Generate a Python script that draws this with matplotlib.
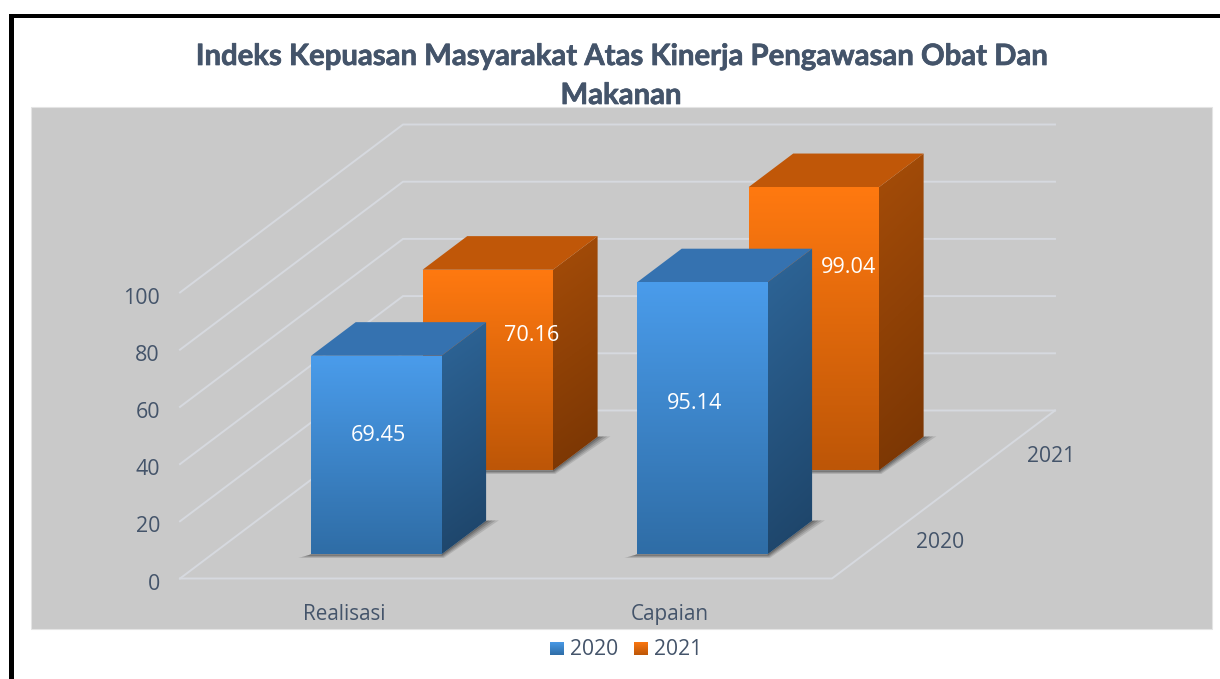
import numpy as np
import matplotlib
matplotlib.use("Agg")
import matplotlib.pyplot as plt
import matplotlib.patheffects as pe
from matplotlib.colors import LinearSegmentedColormap
from matplotlib.patches import Polygon, Rectangle

# ---- data ----
title_lines = ["Indeks Kepuasan Masyarakat Atas Kinerja Pengawasan Obat Dan", "Makanan"]
categories = ["Realisasi", "Capaian"]
series_names = ["2020", "2021"]
values_2020 = [69.45, 95.14]
values_2021 = [70.16, 99.04]
value_ticks = [0, 20, 40, 60, 80, 100]

# ---- styling ----
INK = "#44546A"
GRID = "#D6D9DF"
PANEL = "#C9C9C9"
FONT = "Open Sans"
STYLE = {
    "2020": dict(front=("#4A9CEB", "#2F6DA6"), side=("#2E6699", "#1D4367"), top="#3572B0"),
    "2021": dict(front=("#FF7910", "#BD5607"), side=("#A64D08", "#783504"), top="#C05708"),
}
# label offsets from the front-face centre, px
LABEL_OFFSET = {("2020", 0): (2, -20), ("2020", 1): (-8, -15), ("2021", 0): (44, -35), ("2021", 1): (35, -61)}

# ---- oblique projection: category position, depth position, value -> figure pixels ----
X0, Y0 = 180.0, 578.5
CAT_W = 326.0
DEPTH_DX, DEPTH_DY = 223.0, -168.0
PX_PER_UNIT = 2.86
BAR_W = 0.40      # in category widths
BAR_D = 0.20      # in floor depth
N_SER = len(series_names)


def proj(cat, depth, val):
    return (X0 + cat * CAT_W + depth * DEPTH_DX, Y0 + depth * DEPTH_DY - val * PX_PER_UNIT)


fig = plt.figure(figsize=(12.2, 6.79), dpi=100, facecolor="white")
ax = fig.add_axes([0, 0, 1, 1])
ax.set_xlim(0, 1220)
ax.set_ylim(679, 0)
ax.axis("off")

# frame + panel
ax.add_patch(Rectangle((9, 14), 1211, 3.5, fc="black", ec="none", zorder=1))
ax.add_patch(Rectangle((9, 14), 4.5, 665, fc="black", ec="none", zorder=1))
ax.add_patch(Rectangle((31, 106.5), 1180.5, 522.5, fc=PANEL, ec="#E4E4E4", lw=0.8, zorder=1))

# grid: side wall, back wall, floor
for v in value_ticks:
    pts = [proj(0, 0, v), proj(0, 1, v), proj(2, 1, v)]
    ax.plot(*zip(*pts), color=GRID, lw=1.4, zorder=2, solid_joinstyle="miter")
floor = [proj(0, 0, 0), proj(2, 0, 0), proj(2, 1, 0)]
ax.plot(*zip(*floor), color=GRID, lw=1.4, zorder=2)


def grad_poly(pts, c0, c1, z, diag=0.0):
    """Fill a polygon with a vertical (optionally tilted) gradient."""
    cm = LinearSegmentedColormap.from_list("g", [c0, c1])
    xs, ys = zip(*pts)
    ext = (min(xs), max(xs), max(ys), min(ys))
    yy, xx = np.mgrid[0:1:120j, 0:1:60j]
    im = ax.imshow(yy * (1 - diag) + xx * diag, cmap=cm, vmin=0, vmax=1, extent=ext,
                   aspect="auto", zorder=z, interpolation="bilinear")
    im.set_clip_path(Polygon(pts, transform=ax.transData))


def draw_bar(name, i, val, z):
    st = STYLE[name]
    s = series_names.index(name)
    c0 = i + (1 - BAR_W) / 2 + 0.004
    c1 = c0 + BAR_W
    d0 = (s + 0.5) / N_SER - 0.1065
    d1 = d0 + BAR_D
    # soft shadow on the floor
    bl = proj(c0, d0, 0)
    br = proj(c1, d0, 0)
    tr = proj(c1, d1, 0)
    for k, a in zip((8, 6, 4, 2), (0.16, 0.20, 0.26, 0.34)):
        shadow = [(bl[0] - k * 1.6, bl[1] + k * .45), (br[0] + k * .3, br[1] + k * .45),
                  (tr[0] + k * 1.6, tr[1] - .5)]
        ax.add_patch(Polygon(shadow + [tr, br, bl], fc="#3A3A3A", ec="none", alpha=a, zorder=z))
    # faces
    front = [bl, br, proj(c1, d0, val), proj(c0, d0, val)]
    side = [br, tr, proj(c1, d1, val), proj(c1, d0, val)]
    top = [proj(c0, d0, val), proj(c1, d0, val), proj(c1, d1, val), proj(c0, d1, val)]
    grad_poly(side, *st["side"], z + 0.1, diag=0.12)
    ax.add_patch(Polygon(top, fc=st["top"], ec="none", zorder=z + 0.2))
    grad_poly(front, *st["front"], z + 0.3)
    return (c0 + c1) / 2, d0


labels = []
z = 3.0
for name, vals in (("2021", values_2021), ("2020", values_2020)):
    for i, v in enumerate(vals):
        cm, d0 = draw_bar(name, i, v, z)
        z += 1
        px, py = proj(cm, d0, v / 2)
        ox, oy = LABEL_OFFSET[(name, i)]
        labels.append((px + ox, py + oy, f"{v:.2f}"))

for x, y, s in labels:
    ax.text(x, y, s, color="white", fontsize=15.6, family=FONT, ha="center", va="center", zorder=50)

# axis labels
for v in value_ticks:
    x, y = proj(0, 0, v)
    ax.text(x - 20, y + 5.5, str(v), color=INK, fontsize=15.4, family=FONT, ha="right", va="center", zorder=50)
for i, c in enumerate(categories):
    x, y = proj(i + 0.5, 0, 0)
    ax.text(x + 1, y + 36, c, color=INK, fontsize=14.9, family=FONT, ha="center", va="center", zorder=50)
for s, (name, oy) in enumerate(zip(series_names, (6, 4))):
    x, y = proj(2, (s + 0.5) / N_SER, 0)
    ax.text(x + 52, y + oy, name, color=INK, fontsize=15.2, family=FONT, ha="center", va="center", zorder=50)

# title
for line, y in zip(title_lines, (57, 96)):
    ax.text(621, y, line, color=INK, fontsize=21.1, family="Lato", fontweight="bold",
            ha="center", va="center", zorder=60,
            path_effects=[pe.withStroke(linewidth=0.5, foreground=INK)])

# legend
for (sx, tx), name in zip(((550, 570), (634, 654)), series_names):
    c0, c1 = STYLE[name]["front"]
    grad_poly([(sx, 642), (sx + 13.5, 642), (sx + 13.5, 655.5), (sx, 655.5)], c0, c1, 60)
    ax.text(tx, 649.5, name, color=INK, fontsize=15.2, family=FONT, ha="left", va="center", zorder=60)

ax.set_xlim(0, 1220)
ax.set_ylim(679, 0)
fig.savefig("out.png", dpi=100)
